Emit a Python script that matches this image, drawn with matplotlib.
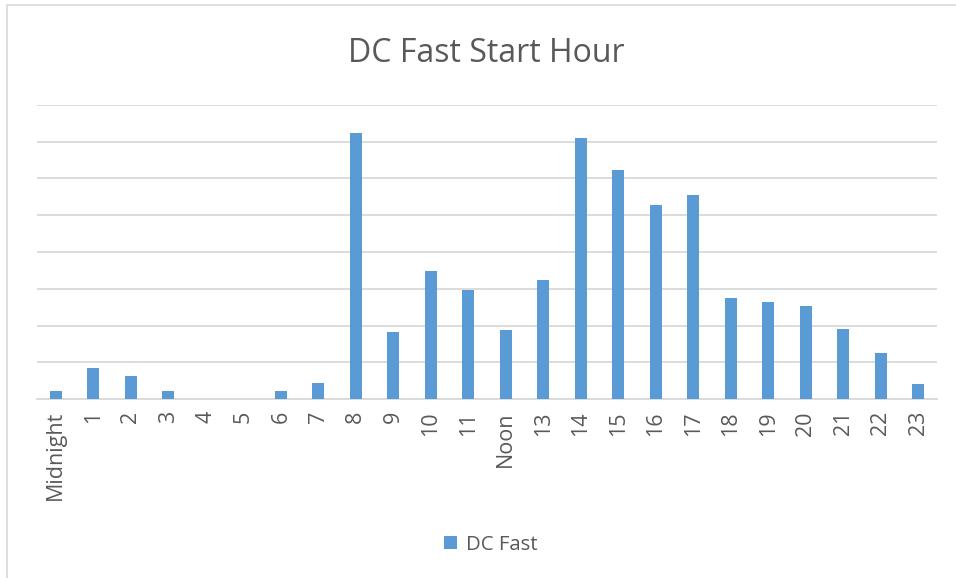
import matplotlib
matplotlib.use("Agg")
import matplotlib.pyplot as plt
from matplotlib.patches import Rectangle

categories = ["Midnight", "1", "2", "3", "4", "5", "6", "7", "8", "9", "10", "11",
              "Noon", "13", "14", "15", "16", "17", "18", "19", "20", "21", "22", "23"]
dc_fast = [0.22, 0.85, 0.63, 0.22, 0, 0, 0.22, 0.43, 7.24, 1.84, 3.48, 2.98,
           1.89, 3.23, 7.10, 6.22, 5.27, 5.54, 2.74, 2.64, 2.54, 1.90, 1.27, 0.42]

bar_color = "#5B9BD5"
text_color = "#595959"
grid_color = "#D9D9D9"
font = ["Open Sans", "DejaVu Sans"]

W, H = 956, 578
fig = plt.figure(figsize=(W / 100, H / 100), dpi=100)
fig.patch.set_facecolor("white")

# outer chart border
fig.add_artist(Rectangle((6.5 / W, -0.1), 1.2, (H - 5.5) / H + 0.1,
                         transform=fig.transFigure, fill=False,
                         edgecolor=grid_color, linewidth=1.2))

left, right, top, bottom = 37, 937, 104.7, 399.3
ax = fig.add_axes([left / W, 1 - bottom / H, (right - left) / W, (bottom - top) / H])
x = list(range(len(categories)))
ax.bar(x, dc_fast, width=0.31, color=bar_color, zorder=3, label="DC Fast")
ax.set_xlim(-0.5, len(categories) - 0.5)
ax.set_ylim(0, 8)
ax.set_yticks(range(0, 9))
ax.yaxis.grid(True, color=grid_color, linewidth=1.3, zorder=0)
ax.tick_params(axis="y", left=False, labelleft=False)
ax.tick_params(axis="x", bottom=False, pad=5)
ax.set_xticks(x)
ax.set_xticklabels(categories, rotation=90, fontsize=15.5, color=text_color, family=font)
for s in ["left", "right", "top"]:
    ax.spines[s].set_visible(False)
ax.spines["bottom"].set_color(grid_color)
ax.spines["bottom"].set_linewidth(1.3)
ax.set_facecolor("none")

fig.text(486.5 / W, 1 - 54 / H, "DC Fast Start Hour", ha="center", va="center",
         fontsize=23, color=text_color, family=font)

leg = fig.legend(loc="center", bbox_to_anchor=(491 / W, 1 - 545 / H), frameon=False,
                 prop={"family": font, "size": 14.7}, handlelength=0.6, handleheight=0.6,
                 handletextpad=0.45)
for t in leg.get_texts():
    t.set_color(text_color)

fig.savefig("out.png", dpi=100, facecolor="white")
